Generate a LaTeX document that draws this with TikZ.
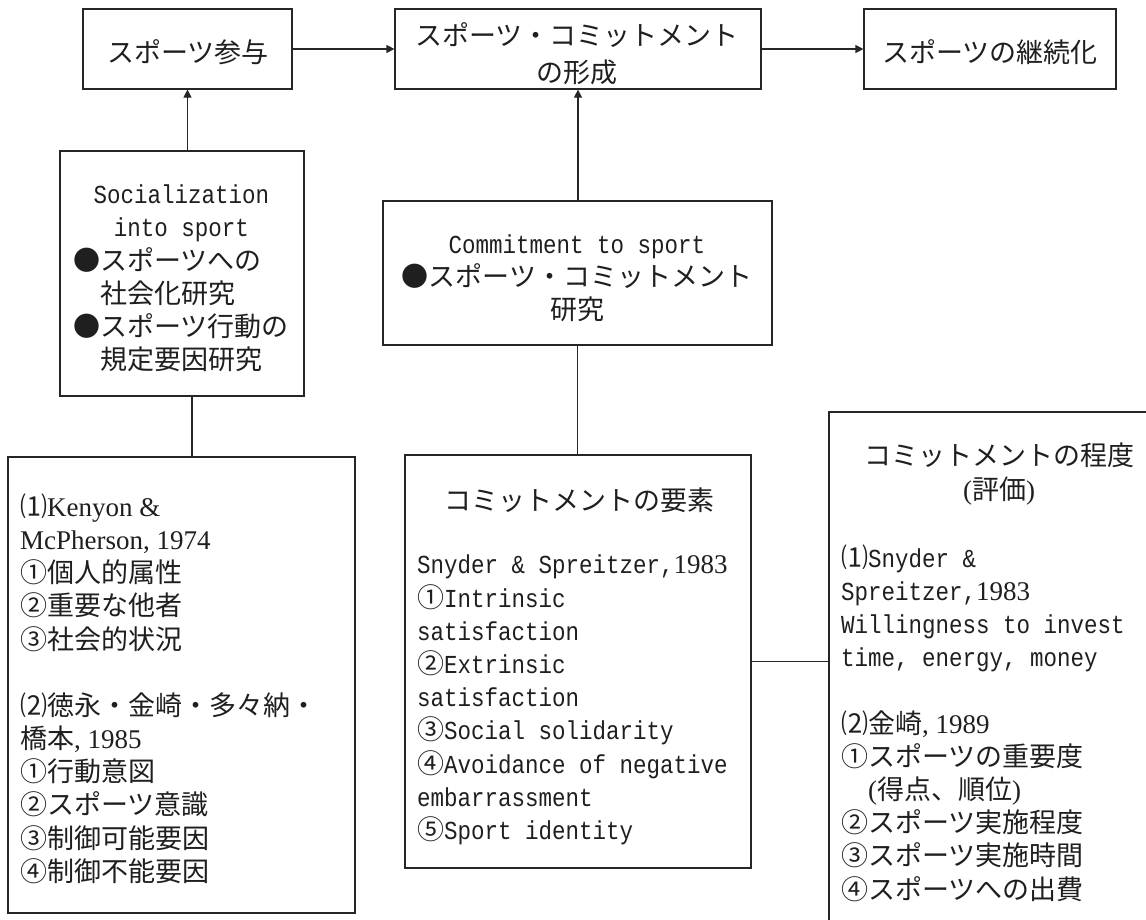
\documentclass[tikz,border=0pt]{standalone}
\usepackage{fontspec}
\setmainfont{Noto Sans CJK JP}
\newfontfamily\monof[Scale=0.96,FakeStretch=0.868]{Liberation Mono}
\newfontfamily\serf{Liberation Serif}
\usetikzlibrary{arrows.meta}
\newcommand\mt[1]{{\monof #1}}
\newcommand\sr[1]{{\serf #1}}
\newcommand\fs{\rule[-0.12em]{0pt}{1em}}
\begin{document}
\begin{tikzpicture}[x=1pt,y=-1pt,
  box/.style={draw=black!85, line width=1.2pt, inner sep=0pt},
  txt/.style={inner sep=0pt, text=black!88, font={\fontsize{27pt}{33.2pt}\selectfont}},
  arr/.style={draw=black!85, -{Triangle[length=8pt,width=8pt]}, line width=1.2pt},
  ln/.style={draw=black!85, line width=1.2pt}]
\clip (0,0) rectangle (1146,919);
\useasboundingbox (0,0) rectangle (1146,919);
\fill[white] (0,0) rectangle (1146,919);
% boxes
\node[box, minimum width=209pt, minimum height=80pt] (A) at (187.5,49) {};
\node[box, minimum width=366pt, minimum height=80pt] (B) at (578,49) {};
\node[box, minimum width=252pt, minimum height=80pt] (C) at (990,49) {};
\node[box, minimum width=244pt, minimum height=245pt] (Soc) at (182,273.5) {};
\node[box, minimum width=389pt, minimum height=144pt] (Com) at (577.5,273) {};
\node[box, minimum width=347pt, minimum height=456pt] (BL) at (181.5,685) {};
\node[box, minimum width=346pt, minimum height=413pt] (BM) at (578,661.5) {};
\node[box, minimum width=341pt, minimum height=523pt] (BR) at (999.5,673.5) {};
% texts
\node[txt] (At) at (188,52) {\fs スポーツ参与};
\node[txt, align=center, font={\fontsize{27pt}{37pt}\selectfont}] (Bt) at (577,53.5) {\fs スポーツ・コミットメント\\の形成\fs};
\node[txt] (Ct) at (990,52) {\fs スポーツの継続化};
\node[txt, align=center] (Soct) at (181.5,276.5) {\fs\mt{Socialization}\\
\mt{into sport}\\
\makebox[8em][l]{●スポーツへの}\\
\makebox[8em][l]{\hspace{1em}社会化研究}\\
\makebox[8em][l]{●スポーツ行動の}\\
\makebox[8em][l]{\hspace{1em}規定要因研究}\fs};
\node[txt, align=center] (Comt) at (577,276.5) {\fs\mt{Commitment to sport}\\
●スポーツ・コミットメント\\
研究\fs};
\node[txt, align=left, anchor=west] (BLt) at (20,688.5) {\fs⑴\sr{Kenyon \&}\\
\sr{McPherson, 1974}\\
①個人的属性\\
②重要な他者\\
③社会的状況\\[33pt]
⑵徳永・金崎・多々納・\\
橋本\sr{, 1985}\\
①行動意図\\
②スポーツ意識\\
③制御可能要因\\
④制御不能要因\fs};
\node[txt] (BMh) at (579,500) {\fs コミットメントの要素\fs};
\node[txt, align=left, anchor=west] (BMt) at (417,697.5) {\fs\mt{Snyder \& Spreitzer,}\sr{1983}\\
①\mt{Intrinsic}\\
\mt{satisfaction}\\
②\mt{Extrinsic}\\
\mt{satisfaction}\\
③\mt{Social solidarity}\\
④\mt{Avoidance of negative}\\
\mt{embarrassment}\\
⑤\mt{Sport identity}\fs};
\node[txt, align=center] (BRh) at (999,473.5) {\fs コミットメントの程度\\\sr{(}評価\sr{)}\fs};
\node[txt, align=left, anchor=west] (BRt) at (841,723) {\fs⑴\mt{Snyder \&}\\
\mt{Spreitzer,}\sr{1983}\\
\mt{Willingness to invest}\\
\mt{time, energy, money}\\[33pt]
⑵金崎\sr{, 1989}\\
①スポーツの重要度\\
\hspace*{1em}\sr{(}得点、順位\sr{)}\\
②スポーツ実施程度\\
③スポーツ実施時間\\
④スポーツへの出費\fs};
% connectors
\draw[arr] (A.east) -- (B.west);
\draw[arr] (B.east) -- (C.west);
\draw[arr] (A.south |- Soc.north) -- (A.south);
\draw[ln] ([xshift=10pt]Soc.south) -- ([xshift=10pt]Soc.south |- BL.north);
\draw[arr] (B.south |- Com.north) -- (B.south);
\draw[ln] (Com.south) -- (Com.south |- BM.north);
\draw[ln] (BM.east) -- (BM.east -| BR.west);
\end{tikzpicture}
\end{document}
